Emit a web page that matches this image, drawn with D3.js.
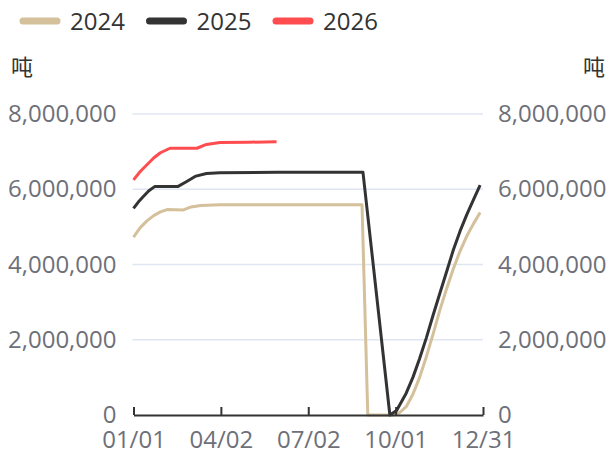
<!DOCTYPE html>
<html>
<head>
<meta charset="utf-8">
<script src="https://cdn.jsdelivr.net/npm/d3@7"></script>
<style>
  body { margin: 0; background: #fff; }
  svg { font-family: "Open Sans", "Noto Sans CJK SC", sans-serif; }
</style>
</head>
<body>
<script>
// series (values in tonnes, dates as MM/DD)
var years = ["2024", "2025", "2026"];
var colors = ["#d4c09b", "#333333", "#ff4d4f"];

var dates2024 = ["01/01","01/08","01/15","01/22","01/29","02/05","02/22","03/02","03/12","04/01","05/31","08/27",
                 "09/02","09/28","10/05","10/12","10/19","10/26","11/02","11/09","11/16","11/23","11/30","12/07",
                 "12/14","12/21","12/28"];
var values2024 = [4730000,4980000,5160000,5300000,5400000,5460000,5450000,5530000,5570000,5590000,5590000,5590000,
                  0,0,60000,220000,550000,1000000,1550000,2150000,2780000,3350000,3880000,4350000,
                  4750000,5080000,5380000];

var dates2025 = ["01/01","01/06","01/11","01/17","01/23","02/16","02/25","03/07","03/18","04/01","05/31","08/28",
                 "09/25","10/02","10/12","10/19","10/26","11/02","11/09","11/16","11/23","11/30","12/07","12/14",
                 "12/21","12/28"];
var values2025 = [5490000,5660000,5800000,5960000,6070000,6070000,6200000,6350000,6420000,6440000,6450000,6450000,
                  0,120000,580000,1000000,1500000,2050000,2650000,3230000,3800000,4380000,4880000,5320000,
                  5720000,6110000];

var dates2026 = ["01/01","01/08","01/15","01/22","01/29","02/08","03/08","03/18","04/01","05/01","05/30"];
var values2026 = [6250000,6470000,6650000,6830000,6970000,7090000,7090000,7190000,7240000,7250000,7260000];

var xTickLabels = ["01/01","04/02","07/02","10/01","12/31"];
var yTicks = [0, 2000000, 4000000, 6000000, 8000000];
var unit = "吨";

var width = 612, height = 455;
var plot = {left: 133.5, right: 483, top: 114, bottom: 415};

var parse = function (s) { return d3.timeParse("%Y/%m/%d")("2025/" + s); };

var series = [
  {name: years[0], color: colors[0], dates: dates2024, values: values2024},
  {name: years[1], color: colors[1], dates: dates2025, values: values2025},
  {name: years[2], color: colors[2], dates: dates2026, values: values2026}
];

var x = d3.scaleTime()
  .domain([parse("01/01"), parse("12/31")])
  .range([plot.left, plot.right]);

var y = d3.scaleLinear()
  .domain([0, 8000000])
  .range([plot.bottom, plot.top]);

var svg = d3.select("body").append("svg")
  .attr("width", width)
  .attr("height", height);

// grid lines
svg.append("g").selectAll("line")
  .data(yTicks.slice(1))
  .enter().append("line")
  .attr("x1", plot.left - 1).attr("x2", plot.right)
  .attr("y1", function (d) { return y(d); })
  .attr("y2", function (d) { return y(d); })
  .attr("stroke", "#e0e6f1")
  .attr("stroke-width", 1.5);

// y axes, left and right, labels only
var fmt = d3.format(",");
var yLeft = d3.axisLeft(y).tickValues(yTicks).tickSize(0).tickPadding(17).tickFormat(fmt);
var yRight = d3.axisRight(y).tickValues(yTicks).tickSize(0).tickPadding(15).tickFormat(fmt);

[[yLeft, plot.left], [yRight, plot.right]].forEach(function (a) {
  var g = svg.append("g").attr("transform", "translate(" + a[1] + ",0)").call(a[0]);
  g.select(".domain").remove();
  g.selectAll("text")
    .attr("fill", "#6e7079")
    .style("font-size", "24px")
    .style("font-family", "'Open Sans', sans-serif");
});

// unit labels
svg.append("text").attr("x", 22).attr("y", 75).attr("text-anchor", "middle")
  .attr("fill", "#333").style("font-size", "22px").style("font-family", "'Noto Sans CJK SC'").text(unit);
svg.append("text").attr("x", 594).attr("y", 75).attr("text-anchor", "middle")
  .attr("fill", "#333").style("font-size", "22px").style("font-family", "'Noto Sans CJK SC'").text(unit);

// lines
var line = d3.line()
  .x(function (d) { return x(d[0]); })
  .y(function (d) { return y(d[1]); });

svg.append("g").selectAll("path")
  .data(series)
  .enter().append("path")
  .attr("d", function (s) {
    return line(s.dates.map(function (dt, i) { return [parse(dt), s.values[i]]; }));
  })
  .attr("fill", "none")
  .attr("stroke", function (s) { return s.color; })
  .attr("stroke-width", 3)
  .attr("stroke-linejoin", "round");

// x axis
var xAxis = d3.axisBottom(x)
  .tickValues(xTickLabels.map(parse))
  .tickFormat(d3.timeFormat("%m/%d"))
  .tickSizeInner(-8)
  .tickSizeOuter(0)
  .tickPadding(16);

var gx = svg.append("g").attr("transform", "translate(0," + plot.bottom + ")").call(xAxis);
gx.select(".domain").attr("stroke", "#333").attr("stroke-width", 2);
gx.selectAll(".tick line").attr("stroke", "#333").attr("stroke-width", 2);
gx.selectAll("text")
  .attr("fill", "#6e7079")
  .style("font-size", "24px")
  .style("font-family", "'Open Sans', sans-serif");

// legend
var legend = svg.append("g").selectAll("g")
  .data(series)
  .enter().append("g")
  .attr("transform", function (s, i) { return "translate(" + (20 + i * 126.5) + ",21)"; });

legend.append("line")
  .attr("x1", 3).attr("x2", 37)
  .attr("stroke", function (s) { return s.color; })
  .attr("stroke-width", 7)
  .attr("stroke-linecap", "round");

legend.append("text")
  .attr("x", 50).attr("y", 8.5)
  .attr("fill", "#333")
  .style("font-size", "24px")
  .text(function (s) { return s.name; });
</script>
</body>
</html>
